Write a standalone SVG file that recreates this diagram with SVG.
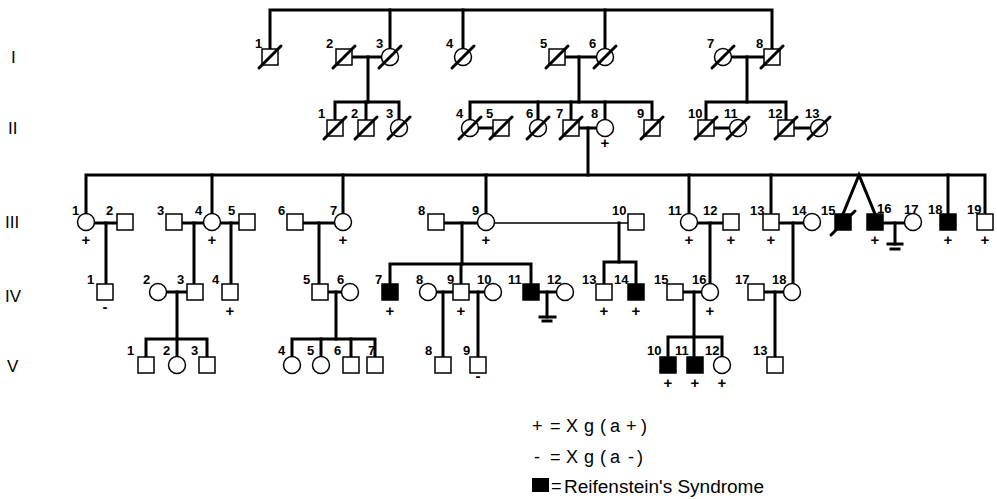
<svg xmlns="http://www.w3.org/2000/svg" width="997" height="499" viewBox="0 0 997 499">
<defs>
<style>
.ln{stroke:#000;stroke-width:3;fill:none;stroke-linecap:square}
.thin{stroke:#000;stroke-width:1.5;fill:none}
.sym{stroke:#000;stroke-width:1.5;fill:#fff}
.aff{stroke:#000;stroke-width:1.5;fill:#000}
.sl{stroke:#000;stroke-width:3;stroke-linecap:round}
.num{font-family:"Liberation Sans",Arial,sans-serif;font-weight:bold;font-size:13px;fill:#000}
.mk{font-family:"Liberation Sans",Arial,sans-serif;font-weight:bold;font-size:15px;fill:#000;text-anchor:middle}
.gen{font-family:"Liberation Sans",Arial,sans-serif;font-size:17px;fill:#000}
.leg{font-family:"Liberation Sans",Arial,sans-serif;font-size:18px;fill:#000}
</style>
</defs>
<rect width="997" height="499" fill="#fff"/>

<g id="generations">
<text class="gen" x="11" y="63">I</text>
<text class="gen" x="8" y="134">II</text>
<text class="gen" x="5" y="228">III</text>
<text class="gen" x="5" y="302">IV</text>
<text class="gen" x="7" y="372">V</text>
</g>

<g id="connectors">
<polyline class="ln" points="270,49 270,10 772,10 772,49"/>
<line class="ln" x1="390" y1="10" x2="390" y2="48"/>
<line class="ln" x1="463" y1="10" x2="463" y2="48"/>
<line class="ln" x1="605" y1="10" x2="605" y2="48"/>
<line class="ln" x1="352" y1="57" x2="381" y2="57"/>
<line class="ln" x1="565" y1="57" x2="596" y2="57"/>
<line class="ln" x1="732" y1="57" x2="764" y2="57"/>
<line class="ln" x1="368" y1="57" x2="368" y2="102"/>
<line class="ln" x1="579" y1="57" x2="579" y2="102"/>
<line class="ln" x1="747" y1="57" x2="747" y2="102"/>
<polyline class="ln" points="335,120 335,102 399,102 399,119"/>
<line class="ln" x1="366" y1="102" x2="366" y2="120"/>
<polyline class="ln" points="470,119 470,102 652,102 652,120"/>
<line class="ln" x1="538" y1="102" x2="538" y2="119"/>
<line class="ln" x1="571" y1="102" x2="571" y2="120"/>
<line class="ln" x1="605" y1="102" x2="605" y2="119"/>
<polyline class="ln" points="706,120 706,102 786,102 786,120"/>
<line class="ln" x1="479" y1="128" x2="493" y2="128"/>
<line class="ln" x1="714" y1="128" x2="729" y2="128"/>
<line class="ln" x1="794" y1="128" x2="810" y2="128"/>
<line class="ln" x1="580" y1="128" x2="596" y2="128"/>
<line class="ln" x1="588" y1="128" x2="588" y2="175"/>
<polyline class="ln" points="86,213 86,175 985,175 985,214"/>
<line class="ln" x1="212" y1="175" x2="212" y2="213"/>
<line class="ln" x1="343" y1="175" x2="343" y2="213"/>
<line class="ln" x1="486" y1="175" x2="486" y2="213"/>
<line class="ln" x1="689" y1="175" x2="689" y2="213"/>
<line class="ln" x1="771" y1="175" x2="771" y2="214"/>
<line class="ln" x1="948" y1="175" x2="948" y2="214"/>
<polyline class="ln" points="843,214 859,175 875,214"/>
<line class="ln" x1="95" y1="223" x2="117" y2="223"/>
<line class="ln" x1="182" y1="223" x2="203" y2="223"/>
<line class="ln" x1="221" y1="223" x2="239" y2="223"/>
<line class="ln" x1="303" y1="223" x2="334" y2="223"/>
<line class="ln" x1="444" y1="223" x2="477" y2="223"/>
<line class="thin" x1="494" y1="223" x2="628" y2="223"/>
<line class="ln" x1="698" y1="223" x2="723" y2="223"/>
<line class="ln" x1="779" y1="223" x2="803" y2="223"/>
<line class="ln" x1="883" y1="223" x2="904" y2="223"/>
<line class="ln" x1="895" y1="223" x2="895" y2="244"/>
<line class="ln" x1="888" y1="244" x2="902" y2="244"/>
<line class="ln" x1="891" y1="249" x2="899" y2="249"/>
<line class="ln" x1="106" y1="223" x2="106" y2="284"/>
<line class="ln" x1="194" y1="223" x2="194" y2="284"/>
<line class="ln" x1="231" y1="223" x2="231" y2="284"/>
<line class="ln" x1="319" y1="223" x2="319" y2="284"/>
<line class="ln" x1="462" y1="223" x2="462" y2="264"/>
<polyline class="ln" points="390,284 390,264 531,264 531,284"/>
<line class="ln" x1="461" y1="264" x2="461" y2="284"/>
<line class="ln" x1="619" y1="223" x2="619" y2="262"/>
<polyline class="ln" points="604,284 604,262 636,262 636,284"/>
<line class="ln" x1="710" y1="223" x2="710" y2="283"/>
<line class="ln" x1="793" y1="223" x2="793" y2="283"/>
<line class="ln" x1="167" y1="292" x2="187" y2="292"/>
<line class="ln" x1="328" y1="292" x2="341" y2="292"/>
<line class="ln" x1="437" y1="292" x2="453" y2="292"/>
<line class="ln" x1="469" y1="292" x2="484" y2="292"/>
<line class="ln" x1="539" y1="292" x2="556" y2="292"/>
<line class="ln" x1="547" y1="292" x2="547" y2="317"/>
<line class="ln" x1="540" y1="317" x2="555" y2="317"/>
<line class="ln" x1="543" y1="321" x2="551" y2="321"/>
<line class="ln" x1="683" y1="292" x2="701" y2="292"/>
<line class="ln" x1="764" y1="292" x2="783" y2="292"/>
<line class="ln" x1="177" y1="292" x2="177" y2="339"/>
<polyline class="ln" points="146,357 146,339 207,339 207,357"/>
<line class="ln" x1="177" y1="339" x2="177" y2="356"/>
<line class="ln" x1="336" y1="292" x2="336" y2="339"/>
<polyline class="ln" points="292,356 292,339 375,339 375,357"/>
<line class="ln" x1="321" y1="339" x2="321" y2="356"/>
<line class="ln" x1="351" y1="339" x2="351" y2="357"/>
<line class="ln" x1="443" y1="292" x2="443" y2="357"/>
<line class="ln" x1="478" y1="292" x2="478" y2="357"/>
<line class="ln" x1="694" y1="292" x2="694" y2="357"/>
<polyline class="ln" points="668,357 668,337 722,337 722,356"/>
<line class="ln" x1="775" y1="292" x2="775" y2="357"/>
</g>

<g id="I-1"><rect class="sym" x="262" y="49" width="16" height="16"/><line class="sl" x1="259" y1="68" x2="281" y2="46"/><text class="num" x="255" y="48">1</text></g>
<g id="I-2"><rect class="sym" x="336" y="49" width="16" height="16"/><line class="sl" x1="333" y1="68" x2="355" y2="46"/><text class="num" x="326" y="48">2</text></g>
<g id="I-3"><circle class="sym" cx="390" cy="57" r="8.5"/><line class="sl" x1="379" y1="68" x2="401" y2="46"/><text class="num" x="376" y="48">3</text></g>
<g id="I-4"><circle class="sym" cx="463" cy="57" r="8.5"/><line class="sl" x1="452" y1="68" x2="474" y2="46"/><text class="num" x="446" y="48">4</text></g>
<g id="I-5"><rect class="sym" x="549" y="49" width="16" height="16"/><line class="sl" x1="546" y1="68" x2="568" y2="46"/><text class="num" x="540" y="48">5</text></g>
<g id="I-6"><circle class="sym" cx="605" cy="57" r="8.5"/><line class="sl" x1="594" y1="68" x2="616" y2="46"/><text class="num" x="589" y="48">6</text></g>
<g id="I-7"><circle class="sym" cx="723" cy="57" r="8.5"/><line class="sl" x1="712" y1="68" x2="734" y2="46"/><text class="num" x="707" y="48">7</text></g>
<g id="I-8"><rect class="sym" x="764" y="49" width="16" height="16"/><line class="sl" x1="761" y1="68" x2="783" y2="46"/><text class="num" x="756" y="48">8</text></g>

<g id="II-1"><rect class="sym" x="327" y="120" width="16" height="16"/><line class="sl" x1="324" y1="139" x2="346" y2="117"/><text class="num" x="318" y="118">1</text></g>
<g id="II-2"><rect class="sym" x="358" y="120" width="16" height="16"/><line class="sl" x1="355" y1="139" x2="377" y2="117"/><text class="num" x="351" y="118">2</text></g>
<g id="II-3"><circle class="sym" cx="399" cy="128" r="8.5"/><line class="sl" x1="388" y1="139" x2="410" y2="117"/><text class="num" x="386" y="118">3</text></g>
<g id="II-4"><circle class="sym" cx="470" cy="128" r="8.5"/><line class="sl" x1="459" y1="139" x2="481" y2="117"/><text class="num" x="456" y="118">4</text></g>
<g id="II-5"><rect class="sym" x="493" y="120" width="16" height="16"/><line class="sl" x1="490" y1="139" x2="512" y2="117"/><text class="num" x="486" y="118">5</text></g>
<g id="II-6"><circle class="sym" cx="538" cy="128" r="8.5"/><line class="sl" x1="527" y1="139" x2="549" y2="117"/><text class="num" x="526" y="118">6</text></g>
<g id="II-7"><rect class="sym" x="563" y="120" width="16" height="16"/><line class="sl" x1="560" y1="139" x2="582" y2="117"/><text class="num" x="556" y="118">7</text></g>
<g id="II-8"><circle class="sym" cx="605" cy="128" r="8.5"/><text class="num" x="591" y="118">8</text><text class="mk" x="605" y="148">+</text></g>
<g id="II-9"><rect class="sym" x="644" y="120" width="16" height="16"/><line class="sl" x1="641" y1="139" x2="663" y2="117"/><text class="num" x="637" y="118">9</text></g>
<g id="II-10"><rect class="sym" x="698" y="120" width="16" height="16"/><line class="sl" x1="695" y1="139" x2="717" y2="117"/><text class="num" x="688" y="118">10</text></g>
<g id="II-11"><circle class="sym" cx="738" cy="128" r="8.5"/><line class="sl" x1="727" y1="139" x2="749" y2="117"/><text class="num" x="724" y="118">11</text></g>
<g id="II-12"><rect class="sym" x="778" y="120" width="16" height="16"/><line class="sl" x1="775" y1="139" x2="797" y2="117"/><text class="num" x="768" y="118">12</text></g>
<g id="II-13"><circle class="sym" cx="819" cy="128" r="8.5"/><line class="sl" x1="808" y1="139" x2="830" y2="117"/><text class="num" x="805" y="118">13</text></g>

<g id="III-1"><circle class="sym" cx="86" cy="222" r="8.5"/><text class="num" x="72" y="215">1</text><text class="mk" x="86" y="245">+</text></g>
<g id="III-2"><rect class="sym" x="117" y="214" width="16" height="16"/><text class="num" x="106" y="215">2</text></g>
<g id="III-3"><rect class="sym" x="166" y="214" width="16" height="16"/><text class="num" x="157" y="215">3</text></g>
<g id="III-4"><circle class="sym" cx="212" cy="222" r="8.5"/><text class="num" x="195" y="215">4</text><text class="mk" x="212" y="245">+</text></g>
<g id="III-5"><rect class="sym" x="239" y="214" width="16" height="16"/><text class="num" x="228" y="215">5</text></g>
<g id="III-6"><rect class="sym" x="287" y="214" width="16" height="16"/><text class="num" x="278" y="215">6</text></g>
<g id="III-7"><circle class="sym" cx="343" cy="222" r="8.5"/><text class="num" x="330" y="215">7</text><text class="mk" x="343" y="245">+</text></g>
<g id="III-8"><rect class="sym" x="428" y="214" width="16" height="16"/><text class="num" x="418" y="215">8</text></g>
<g id="III-9"><circle class="sym" cx="486" cy="222" r="8.5"/><text class="num" x="472" y="215">9</text><text class="mk" x="486" y="245">+</text></g>
<g id="III-10"><rect class="sym" x="628" y="214" width="16" height="16"/><text class="num" x="612" y="215">10</text></g>
<g id="III-11"><circle class="sym" cx="689" cy="222" r="8.5"/><text class="num" x="668" y="215">11</text><text class="mk" x="689" y="245">+</text></g>
<g id="III-12"><rect class="sym" x="723" y="214" width="16" height="16"/><text class="num" x="703" y="215">12</text><text class="mk" x="731" y="245">+</text></g>
<g id="III-13"><rect class="sym" x="763" y="214" width="16" height="16"/><text class="num" x="750" y="215">13</text><text class="mk" x="771" y="245">+</text></g>
<g id="III-14"><circle class="sym" cx="812" cy="222" r="8.5"/><text class="num" x="792" y="215">14</text></g>
<g id="III-15"><rect class="aff" x="835" y="214" width="16" height="16"/><line class="sl" x1="831" y1="235" x2="855" y2="211"/><text class="num" x="821" y="215">15</text></g>
<g id="III-16"><rect class="aff" x="867" y="214" width="16" height="16"/><text class="num" x="877" y="213">16</text><text class="mk" x="875" y="245">+</text></g>
<g id="III-17"><circle class="sym" cx="913" cy="222" r="8.5"/><text class="num" x="904" y="214">17</text></g>
<g id="III-18"><rect class="aff" x="940" y="214" width="16" height="16"/><text class="num" x="928" y="214">18</text><text class="mk" x="948" y="245">+</text></g>
<g id="III-19"><rect class="sym" x="977" y="214" width="16" height="16"/><text class="num" x="967" y="214">19</text><text class="mk" x="985" y="245">+</text></g>

<g id="IV-1"><rect class="sym" x="97" y="284" width="16" height="16"/><text class="num" x="87" y="284">1</text><text class="mk" x="105" y="312">-</text></g>
<g id="IV-2"><circle class="sym" cx="158" cy="292" r="8.5"/><text class="num" x="143" y="284">2</text></g>
<g id="IV-3"><rect class="sym" x="187" y="284" width="16" height="16"/><text class="num" x="177" y="284">3</text></g>
<g id="IV-4"><rect class="sym" x="222" y="284" width="16" height="16"/><text class="num" x="212" y="284">4</text><text class="mk" x="230" y="316">+</text></g>
<g id="IV-5"><rect class="sym" x="312" y="284" width="16" height="16"/><text class="num" x="303" y="284">5</text></g>
<g id="IV-6"><circle class="sym" cx="350" cy="292" r="8.5"/><text class="num" x="337" y="284">6</text></g>
<g id="IV-7"><rect class="aff" x="382" y="284" width="16" height="16"/><text class="num" x="375" y="284">7</text><text class="mk" x="390" y="316">+</text></g>
<g id="IV-8"><circle class="sym" cx="428" cy="292" r="8.5"/><text class="num" x="416" y="284">8</text></g>
<g id="IV-9"><rect class="sym" x="453" y="284" width="16" height="16"/><text class="num" x="447" y="284">9</text><text class="mk" x="461" y="316">+</text></g>
<g id="IV-10"><circle class="sym" cx="493" cy="292" r="8.5"/><text class="num" x="477" y="284">10</text></g>
<g id="IV-11"><rect class="aff" x="523" y="284" width="16" height="16"/><text class="num" x="508" y="284">11</text></g>
<g id="IV-12"><circle class="sym" cx="565" cy="292" r="8.5"/><text class="num" x="547" y="284">12</text></g>
<g id="IV-13"><rect class="sym" x="596" y="284" width="16" height="16"/><text class="num" x="582" y="284">13</text><text class="mk" x="604" y="316">+</text></g>
<g id="IV-14"><rect class="aff" x="628" y="284" width="16" height="16"/><text class="num" x="614" y="284">14</text><text class="mk" x="636" y="316">+</text></g>
<g id="IV-15"><rect class="sym" x="667" y="284" width="16" height="16"/><text class="num" x="654" y="284">15</text></g>
<g id="IV-16"><circle class="sym" cx="710" cy="292" r="8.5"/><text class="num" x="692" y="284">16</text><text class="mk" x="710" y="316">+</text></g>
<g id="IV-17"><rect class="sym" x="748" y="284" width="16" height="16"/><text class="num" x="735" y="284">17</text></g>
<g id="IV-18"><circle class="sym" cx="792" cy="292" r="8.5"/><text class="num" x="772" y="284">18</text></g>

<g id="V-1"><rect class="sym" x="138" y="357" width="16" height="16"/><text class="num" x="127" y="355">1</text></g>
<g id="V-2"><circle class="sym" cx="177" cy="365" r="8.5"/><text class="num" x="163" y="355">2</text></g>
<g id="V-3"><rect class="sym" x="199" y="357" width="16" height="16"/><text class="num" x="191" y="355">3</text></g>
<g id="V-4"><circle class="sym" cx="292" cy="365" r="8.5"/><text class="num" x="278" y="355">4</text></g>
<g id="V-5"><circle class="sym" cx="321" cy="365" r="8.5"/><text class="num" x="307" y="355">5</text></g>
<g id="V-6"><rect class="sym" x="343" y="357" width="16" height="16"/><text class="num" x="334" y="355">6</text></g>
<g id="V-7"><rect class="sym" x="367" y="357" width="16" height="16"/><text class="num" x="368" y="355">7</text></g>
<g id="V-8"><rect class="sym" x="435" y="357" width="16" height="16"/><text class="num" x="425" y="355">8</text></g>
<g id="V-9"><rect class="sym" x="470" y="357" width="16" height="16"/><text class="num" x="463" y="355">9</text><text class="mk" x="478" y="381">-</text></g>
<g id="V-10"><rect class="aff" x="660" y="357" width="16" height="16"/><text class="num" x="647" y="355">10</text><text class="mk" x="668" y="388">+</text></g>
<g id="V-11"><rect class="aff" x="687" y="357" width="16" height="16"/><text class="num" x="675" y="355">11</text><text class="mk" x="695" y="388">+</text></g>
<g id="V-12"><circle class="sym" cx="722" cy="365" r="8.5"/><text class="num" x="705" y="355">12</text><text class="mk" x="722" y="388">+</text></g>
<g id="V-13"><rect class="sym" x="767" y="357" width="16" height="16"/><text class="num" x="753" y="355">13</text></g>

<g id="legend">
<text class="leg" x="532 550 566 584 600 610 626 641" y="432">+=Xg(a+)</text>
<text class="leg" x="534 550 566 584 600 610 628 637" y="463">-=Xg(a-)</text>
<rect x="532" y="478" width="17" height="14" fill="#000"/>
<text class="leg" x="551" y="492">=</text>
<text class="leg" x="564" y="493" textLength="200" lengthAdjust="spacingAndGlyphs">Reifenstein's Syndrome</text>
</g>
</svg>
